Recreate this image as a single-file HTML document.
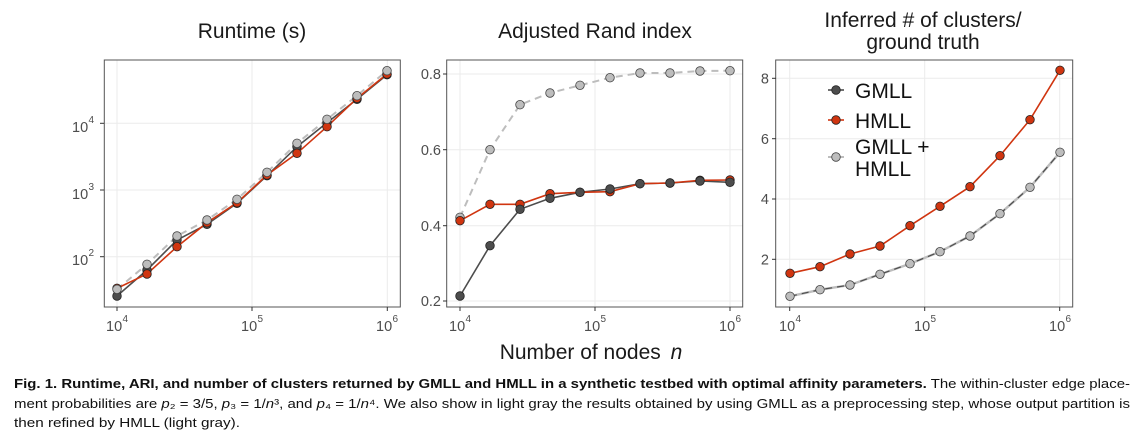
<!DOCTYPE html>
<html><head><meta charset="utf-8"><style>
html,body{margin:0;padding:0;background:#fff}
svg{display:block;font-family:"Liberation Sans",sans-serif}
.g{stroke:#ebebeb;stroke-width:1}
.t{font-size:14.5px;fill:#4d4d4d}
.s{font-size:10px;fill:#4d4d4d}
.ti{font-size:21px;fill:#1a1a1a}
.dk circle{fill:#4d4d4d;stroke:#222;stroke-width:0.8}
.rd circle{fill:#d03510;stroke:#222;stroke-width:0.8}
.lt circle{fill:#bdbdbd;stroke:#444;stroke-width:0.8}
</style></head><body>
<svg width="1144" height="440" viewBox="0 0 1144 440">
<!-- Panel 1 -->
<g>
<line class="g" x1="104" x2="400" y1="123.3" y2="123.3"/><line class="g" x1="104" x2="400" y1="190" y2="190"/><line class="g" x1="104" x2="400" y1="256.7" y2="256.7"/>
<line class="g" x1="117" x2="117" y1="60" y2="307"/><line class="g" x1="252" x2="252" y1="60" y2="307"/><line class="g" x1="387.3" x2="387.3" y1="60" y2="307"/>
<polyline fill="none" stroke="#bdbdbd" stroke-width="2" stroke-dasharray="7,5" points="117,289.3 147,264.3 177,236 207,220 237,199.3 267,172.3 297,143.3 327,119.3 357,95.7 387,70.7"/>
<polyline fill="none" stroke="#4d4d4d" stroke-width="1.6" points="117,296 147,270 177,240 207,224.3 237,203.3 267,175.7 297,146.7 327,122.7 357,99.3 387,74.7"/>
<polyline fill="none" stroke="#d03510" stroke-width="1.6" points="117,288.3 147,274 177,246.7 207,222.7 237,202.7 267,175 297,153.3 327,126.7 357,98.3 387,74"/>
<g class="dk"><circle cx="117" cy="296" r="4.3"/><circle cx="147" cy="270" r="4.3"/><circle cx="177" cy="240" r="4.3"/><circle cx="207" cy="224.3" r="4.3"/><circle cx="237" cy="203.3" r="4.3"/><circle cx="267" cy="175.7" r="4.3"/><circle cx="297" cy="146.7" r="4.3"/><circle cx="327" cy="122.7" r="4.3"/><circle cx="357" cy="99.3" r="4.3"/><circle cx="387" cy="74.7" r="4.3"/></g>
<g class="rd"><circle cx="117" cy="288.3" r="4.3"/><circle cx="147" cy="274" r="4.3"/><circle cx="177" cy="246.7" r="4.3"/><circle cx="207" cy="222.7" r="4.3"/><circle cx="237" cy="202.7" r="4.3"/><circle cx="267" cy="175" r="4.3"/><circle cx="297" cy="153.3" r="4.3"/><circle cx="327" cy="126.7" r="4.3"/><circle cx="357" cy="98.3" r="4.3"/><circle cx="387" cy="74" r="4.3"/></g>
<g class="lt"><circle cx="117" cy="289.3" r="4.3"/><circle cx="147" cy="264.3" r="4.3"/><circle cx="177" cy="236" r="4.3"/><circle cx="207" cy="220" r="4.3"/><circle cx="237" cy="199.3" r="4.3"/><circle cx="267" cy="172.3" r="4.3"/><circle cx="297" cy="143.3" r="4.3"/><circle cx="327" cy="119.3" r="4.3"/><circle cx="357" cy="95.7" r="4.3"/><circle cx="387" cy="70.7" r="4.3"/></g>
<rect x="104.3" y="60" width="296" height="247" fill="none" stroke="#555" stroke-width="1"/>
<g stroke="#333"><line x1="100" x2="104" y1="123.3" y2="123.3"/><line x1="100" x2="104" y1="190" y2="190"/><line x1="100" x2="104" y1="256.7" y2="256.7"/><line x1="117" x2="117" y1="307" y2="311"/><line x1="252" x2="252" y1="307" y2="311"/><line x1="387.3" x2="387.3" y1="307" y2="311"/></g>
<text class="t" x="72" y="132">10</text><text class="s" x="88.5" y="123">4</text>
<text class="t" x="72" y="199">10</text><text class="s" x="88.5" y="190">3</text>
<text class="t" x="72" y="265">10</text><text class="s" x="88.5" y="256">2</text>
<text class="t" x="106" y="331">10</text><text class="s" x="122.5" y="322">4</text>
<text class="t" x="241" y="331">10</text><text class="s" x="257.5" y="322">5</text>
<text class="t" x="376" y="331">10</text><text class="s" x="392.5" y="322">6</text>
<text class="ti" x="252" y="38" text-anchor="middle">Runtime (s)</text>
</g>
<!-- Panel 2 -->
<g>
<line class="g" x1="447" x2="743" y1="74" y2="74"/><line class="g" x1="447" x2="743" y1="149.7" y2="149.7"/><line class="g" x1="447" x2="743" y1="225.7" y2="225.7"/><line class="g" x1="447" x2="743" y1="301" y2="301"/>
<line class="g" x1="460" x2="460" y1="60" y2="307"/><line class="g" x1="595" x2="595" y1="60" y2="307"/><line class="g" x1="730" x2="730" y1="60" y2="307"/>
<polyline fill="none" stroke="#bdbdbd" stroke-width="2" stroke-dasharray="7,5" points="460,217.3 490,149.7 520,104.7 550,93 580,85.3 610,77.7 640,73 670,73 700,71 730,70.7"/>
<polyline fill="none" stroke="#4d4d4d" stroke-width="1.6" points="460,296 490,245.7 520,209.3 550,198.3 580,192.3 610,189 640,183.7 670,183 700,181 730,182.3"/>
<polyline fill="none" stroke="#d03510" stroke-width="1.6" points="460,220.7 490,204.3 520,204.3 550,193.7 580,192.3 610,191.7 640,183.7 670,183 700,180.3 730,180"/>
<g class="lt"><circle cx="460" cy="217.3" r="4.3"/><circle cx="490" cy="149.7" r="4.3"/><circle cx="520" cy="104.7" r="4.3"/><circle cx="550" cy="93" r="4.3"/><circle cx="580" cy="85.3" r="4.3"/><circle cx="610" cy="77.7" r="4.3"/><circle cx="640" cy="73" r="4.3"/><circle cx="670" cy="73" r="4.3"/><circle cx="700" cy="71" r="4.3"/><circle cx="730" cy="70.7" r="4.3"/></g>
<g class="rd"><circle cx="460" cy="220.7" r="4.3"/><circle cx="490" cy="204.3" r="4.3"/><circle cx="520" cy="204.3" r="4.3"/><circle cx="550" cy="193.7" r="4.3"/><circle cx="580" cy="192.3" r="4.3"/><circle cx="610" cy="191.7" r="4.3"/><circle cx="640" cy="183.7" r="4.3"/><circle cx="670" cy="183" r="4.3"/><circle cx="700" cy="180.3" r="4.3"/><circle cx="730" cy="180" r="4.3"/></g>
<g class="dk"><circle cx="460" cy="296" r="4.3"/><circle cx="490" cy="245.7" r="4.3"/><circle cx="520" cy="209.3" r="4.3"/><circle cx="550" cy="198.3" r="4.3"/><circle cx="580" cy="192.3" r="4.3"/><circle cx="610" cy="189" r="4.3"/><circle cx="640" cy="183.7" r="4.3"/><circle cx="670" cy="183" r="4.3"/><circle cx="700" cy="181" r="4.3"/><circle cx="730" cy="182.3" r="4.3"/></g>
<rect x="446.7" y="60" width="296" height="247" fill="none" stroke="#555" stroke-width="1"/>
<g stroke="#333"><line x1="443" x2="447" y1="74" y2="74"/><line x1="443" x2="447" y1="149.7" y2="149.7"/><line x1="443" x2="447" y1="225.7" y2="225.7"/><line x1="443" x2="447" y1="301" y2="301"/><line x1="460" x2="460" y1="307" y2="311"/><line x1="595" x2="595" y1="307" y2="311"/><line x1="730" x2="730" y1="307" y2="311"/></g>
<text class="t" x="441" y="79" text-anchor="end">0.8</text><text class="t" x="441" y="155" text-anchor="end">0.6</text><text class="t" x="441" y="231" text-anchor="end">0.4</text><text class="t" x="441" y="306" text-anchor="end">0.2</text>
<text class="t" x="449" y="331">10</text><text class="s" x="465.5" y="322">4</text>
<text class="t" x="584" y="331">10</text><text class="s" x="600.5" y="322">5</text>
<text class="t" x="719" y="331">10</text><text class="s" x="735.5" y="322">6</text>
<text class="ti" x="595" y="38" text-anchor="middle">Adjusted Rand index</text>
</g>
<!-- Panel 3 -->
<g>
<line class="g" x1="776" x2="1073" y1="78.3" y2="78.3"/><line class="g" x1="776" x2="1073" y1="138.7" y2="138.7"/><line class="g" x1="776" x2="1073" y1="199" y2="199"/><line class="g" x1="776" x2="1073" y1="259.3" y2="259.3"/>
<line class="g" x1="789.7" x2="789.7" y1="60" y2="307"/><line class="g" x1="924.7" x2="924.7" y1="60" y2="307"/><line class="g" x1="1059.7" x2="1059.7" y1="60" y2="307"/>
<polyline fill="none" stroke="#bdbdbd" stroke-width="2.4" points="790,296.3 820,289.7 850,285 880,274.3 910,263.7 940,251.7 970,236 1000,213.7 1030,187.3 1060,152.3"/>
<polyline fill="none" stroke="#4d4d4d" stroke-width="1.2" stroke-dasharray="7,5" points="790,296.3 820,289.7 850,285 880,274.3 910,263.7 940,251.7 970,236 1000,213.7 1030,187.3 1060,152.3"/>
<polyline fill="none" stroke="#d03510" stroke-width="1.6" points="790,273.3 820,266.7 850,254 880,246 910,225.7 940,206.3 970,186.7 1000,155.7 1030,119.7 1060,70.3"/>
<g class="lt"><circle cx="790" cy="296.3" r="4.3"/><circle cx="820" cy="289.7" r="4.3"/><circle cx="850" cy="285" r="4.3"/><circle cx="880" cy="274.3" r="4.3"/><circle cx="910" cy="263.7" r="4.3"/><circle cx="940" cy="251.7" r="4.3"/><circle cx="970" cy="236" r="4.3"/><circle cx="1000" cy="213.7" r="4.3"/><circle cx="1030" cy="187.3" r="4.3"/><circle cx="1060" cy="152.3" r="4.3"/></g>
<g class="rd"><circle cx="790" cy="273.3" r="4.3"/><circle cx="820" cy="266.7" r="4.3"/><circle cx="850" cy="254" r="4.3"/><circle cx="880" cy="246" r="4.3"/><circle cx="910" cy="225.7" r="4.3"/><circle cx="940" cy="206.3" r="4.3"/><circle cx="970" cy="186.7" r="4.3"/><circle cx="1000" cy="155.7" r="4.3"/><circle cx="1030" cy="119.7" r="4.3"/><circle cx="1060" cy="70.3" r="4.3"/></g>
<rect x="775.7" y="60" width="297" height="247" fill="none" stroke="#555" stroke-width="1"/>
<g stroke="#333"><line x1="772" x2="776" y1="78.3" y2="78.3"/><line x1="772" x2="776" y1="138.7" y2="138.7"/><line x1="772" x2="776" y1="199" y2="199"/><line x1="772" x2="776" y1="259.3" y2="259.3"/><line x1="789.7" x2="789.7" y1="307" y2="311"/><line x1="924.7" x2="924.7" y1="307" y2="311"/><line x1="1059.7" x2="1059.7" y1="307" y2="311"/></g>
<text class="t" x="769" y="83.5" text-anchor="end">8</text><text class="t" x="769" y="144" text-anchor="end">6</text><text class="t" x="769" y="204" text-anchor="end">4</text><text class="t" x="769" y="264.5" text-anchor="end">2</text>
<text class="t" x="779" y="331">10</text><text class="s" x="795.5" y="322">4</text>
<text class="t" x="914" y="331">10</text><text class="s" x="930.5" y="322">5</text>
<text class="t" x="1049" y="331">10</text><text class="s" x="1065.5" y="322">6</text>
<text class="ti" x="923" y="27" text-anchor="middle">Inferred # of clusters/</text>
<text class="ti" x="923" y="49" text-anchor="middle">ground truth</text>
<!-- legend -->
<line x1="828" x2="844" y1="90" y2="90" stroke="#4d4d4d" stroke-width="1.6"/><g class="dk"><circle cx="836" cy="90" r="4.3"/></g>
<line x1="828" x2="844" y1="120" y2="120" stroke="#d03510" stroke-width="1.6"/><g class="rd"><circle cx="836" cy="120" r="4.3"/></g>
<line x1="828" x2="844" y1="157" y2="157" stroke="#bdbdbd" stroke-width="2"/><g class="lt"><circle cx="836" cy="157" r="4.3"/></g>
<g style="font-size:21px;fill:#111"><text x="855" y="98">GMLL</text><text x="855" y="128">HMLL</text><text x="855" y="154">GMLL +</text><text x="855" y="176">HMLL</text></g>
</g>
<text x="591" y="359" text-anchor="middle" style="font-size:21px;fill:#1a1a1a">Number of nodes <tspan font-style="italic" dx="4">n</tspan></text>
<g style="font-size:13px;fill:#111">
<text x="14" y="388" textLength="1116" lengthAdjust="spacingAndGlyphs"><tspan font-weight="bold">Fig. 1. Runtime, ARI, and number of clusters returned by GMLL and HMLL in a synthetic testbed with optimal affinity parameters.</tspan> The within-cluster edge place-</text>
<text x="14" y="408" textLength="1116" lengthAdjust="spacingAndGlyphs">ment probabilities are <tspan font-style="italic">p</tspan>₂ = 3/5, <tspan font-style="italic">p</tspan>₃ = 1/<tspan font-style="italic">n</tspan>³, and <tspan font-style="italic">p</tspan>₄ = 1/<tspan font-style="italic">n</tspan>⁴. We also show in light gray the results obtained by using GMLL as a preprocessing step, whose output partition is</text>
<text x="14" y="427" textLength="226" lengthAdjust="spacingAndGlyphs">then refined by HMLL (light gray).</text>
</g>
</svg>
</body></html>
